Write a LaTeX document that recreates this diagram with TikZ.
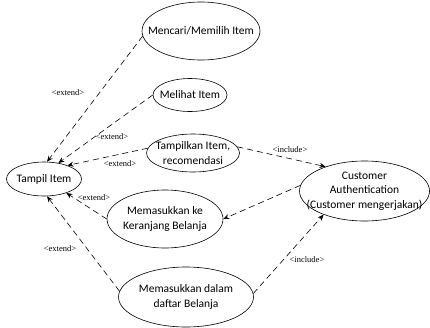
\documentclass[tikz,border=0pt]{standalone}
\usepackage{fontspec}
\setmainfont{Carlito}
\newfontfamily\lblfont{Liberation Serif}
\usetikzlibrary{shapes.geometric,arrows.meta}
\begin{document}
\begin{tikzpicture}[x=1pt,y=-1pt,
  usecase/.style={draw, ellipse, line width=0.6pt, inner sep=0pt},
  uctext/.style={align=center, inner sep=0pt, font=\fontsize{11.5}{14.5}\selectfont},
  lbl/.style={inner sep=0pt, font=\lblfont\fontsize{8.5}{10}\selectfont},
  rel/.style={line width=0.6pt, dash pattern=on 6pt off 4pt, -{Stealth[length=6pt,width=5pt]}}]
\useasboundingbox (0,0) rectangle (430,327);
    \node[usecase, minimum width=118, minimum height=58, label={[uctext]center:Mencari/Memilih Item}] (mencari) at (201,31) {};
    \node[usecase, minimum width=74, minimum height=33, label={[uctext]center:Melihat Item}] (melihat) at (190,95) {};
    \node[usecase, minimum width=93, minimum height=38, label={[uctext]center:{Tampilkan Item,\\recomendasi}}] (tampilkan) at (193,153) {};
    \node[usecase, minimum width=75, minimum height=34, label={[uctext]center:Tampil Item}] (tampil) at (44,179) {};
    \node[usecase, minimum width=116, minimum height=58, label={[uctext]center:{Memasukkan ke\\Keranjang Belanja}}] (keranjang) at (165,219) {};
    \node[usecase, minimum width=135, minimum height=60, label={[uctext]center:{Memasukkan dalam\\daftar Belanja}}] (daftar) at (186,297) {};
    \node[usecase, minimum width=130, minimum height=60, label={[uctext]center:{Customer\\Authentication\\(Customer mengerjakan)}}] (auth) at (364.5,191) {};
    \draw[rel] (mencari.185) -- (tampil.80);
    \draw[rel] (melihat.west) -- (tampil.48);
    \draw[rel] (tampilkan.174) -- (tampil.30);
    \draw[rel] (keranjang.west) -- (tampil.-32);
    \draw[rel] (daftar.175) -- (tampil.-80);
    \draw[rel] (tampilkan.8) -- (auth.148);
    \draw[rel] (auth.175) -- (keranjang.east);
    \draw[rel] (daftar.3) -- (auth.-150);
    \node[lbl] (ext1) at (68,93) {<extend>};
    \node[lbl] (ext2) at (112,137) {<extend>};
    \node[lbl] (ext3) at (120,164) {<extend>};
    \node[lbl] (ext4) at (94,198) {<extend>};
    \node[lbl] (ext5) at (60,249) {<extend>};
    \node[lbl] (inc1) at (290,150) {<include>};
    \node[lbl] (inc2) at (307,260) {<include>};
\end{tikzpicture}
\end{document}
